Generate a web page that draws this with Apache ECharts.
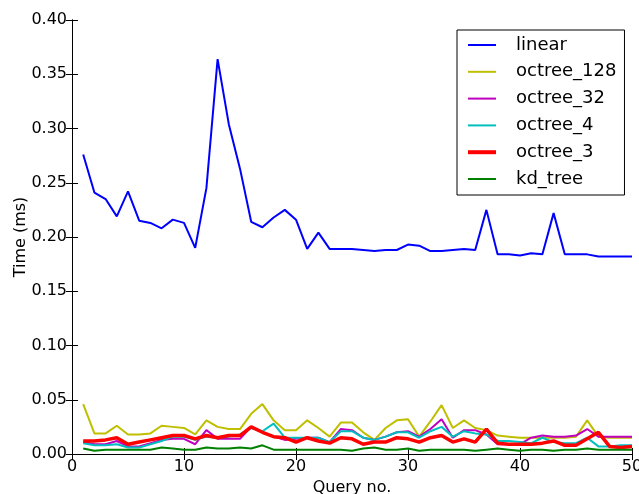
<!DOCTYPE html>
<html>
<head>
<meta charset="utf-8">
<script src="https://cdn.jsdelivr.net/npm/echarts@6/dist/echarts.min.js"></script>
<style>
  html, body { margin: 0; padding: 0; background: #fff; }
  #chart { width: 639px; height: 494px; }
</style>
</head>
<body>
<div id="chart"></div>
<script>
// query numbers 1..50
const queries = [1,2,3,4,5,6,7,8,9,10,11,12,13,14,15,16,17,18,19,20,21,22,23,24,25,
  26,27,28,29,30,31,32,33,34,35,36,37,38,39,40,41,42,43,44,45,46,47,48,49,50];

const linear = [0.276,0.241,0.235,0.219,0.242,0.215,0.213,0.208,0.216,0.213,
  0.190,0.245,0.364,0.304,0.263,0.214,0.209,0.218,0.225,0.216,
  0.189,0.204,0.189,0.189,0.189,0.188,0.187,0.188,0.188,0.193,
  0.192,0.187,0.187,0.188,0.189,0.188,0.225,0.184,0.184,0.183,
  0.185,0.184,0.222,0.184,0.184,0.184,0.182,0.182,0.182,0.182];

const octree128 = [0.046,0.019,0.019,0.026,0.018,0.018,0.019,0.026,0.025,0.024,
  0.018,0.031,0.025,0.023,0.023,0.037,0.046,0.031,0.022,0.022,
  0.031,0.024,0.016,0.029,0.029,0.020,0.013,0.024,0.031,0.032,
  0.016,0.030,0.045,0.024,0.031,0.024,0.022,0.017,0.016,0.015,
  0.015,0.015,0.015,0.015,0.016,0.031,0.016,0.015,0.015,0.015];

const octree32 = [0.011,0.009,0.009,0.012,0.007,0.007,0.010,0.013,0.014,0.014,
  0.009,0.022,0.014,0.014,0.014,0.025,0.020,0.016,0.013,0.014,
  0.015,0.015,0.011,0.023,0.022,0.015,0.013,0.016,0.020,0.021,
  0.016,0.023,0.032,0.015,0.022,0.022,0.018,0.009,0.009,0.009,
  0.015,0.017,0.016,0.016,0.017,0.023,0.016,0.016,0.016,0.016];

const octree4 = [0.010,0.008,0.008,0.009,0.006,0.006,0.009,0.012,0.016,0.016,
  0.013,0.016,0.015,0.016,0.018,0.024,0.021,0.028,0.015,0.015,
  0.015,0.015,0.011,0.021,0.021,0.015,0.013,0.016,0.020,0.020,
  0.015,0.021,0.025,0.016,0.021,0.019,0.018,0.012,0.012,0.011,
  0.010,0.015,0.011,0.010,0.010,0.015,0.007,0.007,0.008,0.008];

const octree3 = [0.012,0.012,0.013,0.015,0.009,0.011,0.013,0.015,0.017,0.017,
  0.014,0.017,0.015,0.017,0.017,0.025,0.020,0.016,0.015,0.011,
  0.015,0.012,0.010,0.015,0.014,0.009,0.011,0.011,0.015,0.014,
  0.011,0.015,0.017,0.011,0.014,0.011,0.023,0.010,0.009,0.009,
  0.009,0.010,0.012,0.008,0.008,0.014,0.020,0.007,0.006,0.007];

const kdTree = [0.005,0.003,0.004,0.004,0.004,0.004,0.004,0.006,0.005,0.004,
  0.004,0.006,0.005,0.005,0.006,0.005,0.008,0.004,0.004,0.004,
  0.004,0.004,0.004,0.004,0.003,0.005,0.006,0.004,0.004,0.005,
  0.003,0.004,0.004,0.004,0.004,0.003,0.004,0.005,0.004,0.003,
  0.004,0.004,0.003,0.004,0.004,0.005,0.004,0.004,0.004,0.004];

const seriesNames = ['linear', 'octree_128', 'octree_32', 'octree_4', 'octree_3', 'kd_tree'];

const font = 'DejaVu Sans';

// legend icons: a thin bar inside an 28x10 box (the outer moves fix the box size)
const thinIcon = 'path://M0,0 M0,4 L28,4 L28,6 L0,6 Z M28,10';
const thickIcon = 'path://M0,0 M0,3 L28,3 L28,7 L0,7 Z M28,10';

function pairs(vals) {
  return queries.map((q, i) => [q, vals[i]]);
}

function makeLine(name, vals, color, width) {
  return {
    name: name,
    type: 'line',
    data: pairs(vals),
    symbol: 'none',
    color: color,
    itemStyle: { color: color },
    lineStyle: { color: color, width: width },
    animation: false
  };
}

let chartDom = document.getElementById('chart');
let myChart = echarts.init(chartDom, null, { renderer: 'canvas' });
let option;

const tickStyle = { show: true, inside: true, length: 6, lineStyle: { color: '#000', width: 1 } };

option = {
  backgroundColor: '#fff',
  textStyle: { fontFamily: font },
  grid: { left: 72, right: 7, top: 20, bottom: 40, containLabel: false, outerBoundsMode: 'none' },
  legend: {
    orient: 'vertical',
    left: 457,
    top: 30,
    borderColor: '#000',
    borderWidth: 1,
    padding: [6, 8, 7, 11],
    itemGap: 8.8,
    itemWidth: 28,
    itemHeight: 10,
    textStyle: { fontFamily: font, fontSize: 18, lineHeight: 18, color: '#000', padding: [0, 0, 0, 15] },
    data: seriesNames.map(n => ({ name: n, icon: n === 'octree_3' ? thickIcon : thinIcon }))
  },
  xAxis: [
    {
      type: 'value',
      min: 0,
      max: 50,
      interval: 10,
      name: 'Query no.',
      nameLocation: 'middle',
      nameGap: 23,
      nameTextStyle: { fontFamily: font, fontSize: 16, color: '#000' },
      axisLine: { show: true, lineStyle: { color: '#000', width: 1 } },
      axisTick: tickStyle,
      axisLabel: { fontFamily: font, fontSize: 16, color: '#000', margin: 5 },
      splitLine: { show: false }
    },
    {
      type: 'value',
      position: 'top',
      min: 0,
      max: 50,
      interval: 10,
      axisLine: { show: true, lineStyle: { color: '#000', width: 1 } },
      axisTick: tickStyle,
      axisLabel: { show: false },
      splitLine: { show: false }
    }
  ],
  yAxis: [
    {
      type: 'value',
      min: 0,
      max: 0.4,
      interval: 0.05,
      name: 'Time (ms)',
      nameLocation: 'middle',
      nameGap: 43,
      nameMoveOverlap: false,
      nameTextStyle: { fontFamily: font, fontSize: 16, color: '#000' },
      axisLine: { show: true, lineStyle: { color: '#000', width: 1 } },
      axisTick: tickStyle,
      axisLabel: {
        fontFamily: font, fontSize: 16, color: '#000', margin: 5,
        formatter: v => v.toFixed(2)
      },
      splitLine: { show: false }
    },
    {
      type: 'value',
      position: 'right',
      min: 0,
      max: 0.4,
      interval: 0.05,
      axisLine: { show: true, lineStyle: { color: '#000', width: 1 } },
      axisTick: tickStyle,
      axisLabel: { show: false },
      splitLine: { show: false }
    }
  ],
  series: [
    makeLine('linear', linear, '#0000ff', 2),
    makeLine('octree_128', octree128, '#bfbf00', 2),
    makeLine('octree_32', octree32, '#bf00bf', 2),
    makeLine('octree_4', octree4, '#00bfbf', 2),
    makeLine('octree_3', octree3, '#ff0000', 3.5),
    makeLine('kd_tree', kdTree, '#008000', 2)
  ]
};

option && myChart.setOption(option);
</script>
</body>
</html>
